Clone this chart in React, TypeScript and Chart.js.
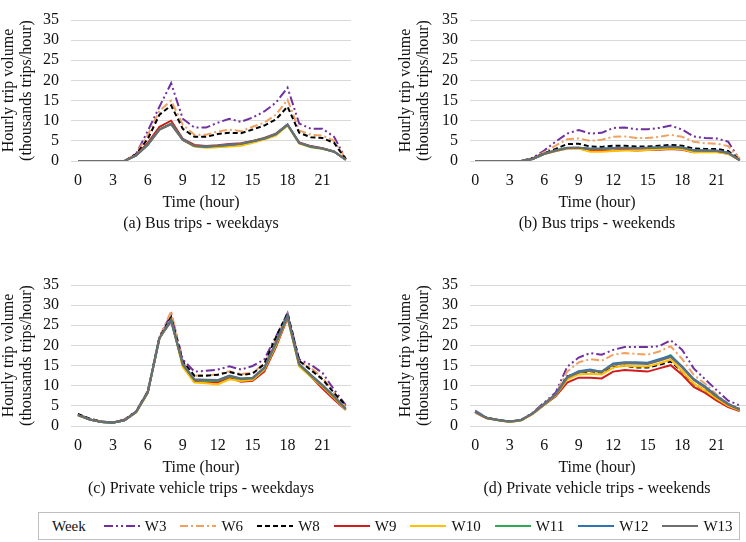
import React, { useEffect, useRef } from "react";
import { Chart, registerables } from "chart.js";

Chart.register(...registerables);

const hours = [0, 1, 2, 3, 4, 5, 6, 7, 8, 9, 10, 11, 12, 13, 14, 15, 16, 17, 18, 19, 20, 21, 22, 23];
const xTickValues = [0, 3, 6, 9, 12, 15, 18, 21];
const weeks = ["W3", "W6", "W8", "W9", "W10", "W11", "W12", "W13"];
const xAxisTitle = "Time (hour)";
const yAxisTitle = ["Hourly trip volume", "(thousands trips/hour)"];

// (a) Bus trips - weekdays
const busWeekdayW3 = [0, 0, 0, 0, 0, 1.8, 7.5, 13.5, 19.3, 10.5, 8.3, 8.3, 9.5, 10.5, 9.7, 10.8, 12.3, 14.5, 18.2, 9.3, 8, 8, 6, 0.5];
const busWeekdayW6 = [0, 0, 0, 0, 0, 1.8, 6.5, 12.5, 15, 9, 6.5, 6.5, 7.3, 7.8, 7.4, 8.5, 9.5, 11.5, 15.2, 7.6, 6.5, 6.3, 5, 0.5];
const busWeekdayW8 = [0, 0, 0, 0, 0, 1.7, 5.5, 11.5, 13.8, 8, 6, 6, 6.7, 7, 6.9, 7.8, 8.8, 10.3, 13.5, 7, 5.9, 5.7, 4.5, 0.4];
const busWeekdayW9 = [0, 0, 0, 0, 0, 1.5, 4.5, 8.5, 10, 5.5, 4, 3.7, 3.9, 4.2, 4.4, 5, 5.7, 6.8, 9, 4.6, 3.7, 3.2, 2.4, 0.3];
const busWeekdayW10 = [0, 0, 0, 0, 0, 1.4, 4.0, 7.8, 9.2, 5.2, 3.6, 3.3, 3.4, 3.6, 3.8, 4.5, 5.3, 6.3, 8.8, 4.3, 3.4, 3.0, 2.3, 0.3];
const busWeekdayW11 = [0, 0, 0, 0, 0, 1.4, 4.1, 7.9, 9.3, 5.3, 3.7, 3.5, 3.7, 4.0, 4.3, 4.9, 5.6, 6.6, 8.9, 4.5, 3.5, 3.1, 2.3, 0.3];
const busWeekdayW12 = [0, 0, 0, 0, 0, 1.4, 4.1, 7.8, 9.2, 5.3, 3.7, 3.6, 3.8, 4.1, 4.3, 4.9, 5.6, 6.7, 9.1, 4.5, 3.6, 3.1, 2.3, 0.3];
const busWeekdayW13 = [0, 0, 0, 0, 0, 1.4, 4.0, 7.8, 9.1, 5.2, 3.7, 3.6, 3.8, 4.0, 4.3, 4.9, 5.6, 6.7, 9.0, 4.5, 3.6, 3.1, 2.3, 0.3];

// (b) Bus trips - weekends
const busWeekendW3 = [0, 0, 0, 0, 0, 0.8, 2.6, 4.8, 6.8, 7.7, 6.8, 7.0, 8.2, 8.3, 7.9, 7.9, 8.2, 8.8, 7.8, 6.1, 5.7, 5.6, 4.8, 0.3];
const busWeekendW6 = [0, 0, 0, 0, 0, 0.7, 2.2, 3.8, 5.4, 5.6, 5.0, 5.3, 6.0, 6.1, 5.7, 5.7, 6.0, 6.5, 6.0, 4.8, 4.4, 4.3, 3.7, 0.5];
const busWeekendW8 = [0, 0, 0, 0, 0, 0.6, 1.9, 3.0, 4.2, 4.3, 3.6, 3.5, 3.8, 3.8, 3.6, 3.6, 3.8, 4.0, 3.8, 3.1, 3.0, 3.0, 2.5, 0.3];
const busWeekendW9 = [0, 0, 0, 0, 0, 0.5, 1.7, 2.5, 3.1, 3.2, 2.5, 2.5, 2.6, 2.8, 2.6, 2.7, 2.8, 3.0, 2.8, 2.2, 2.3, 2.3, 1.8, 0.2];
const busWeekendW10 = [0, 0, 0, 0, 0, 0.5, 1.7, 2.5, 3.1, 3.1, 2.3, 2.3, 2.5, 2.6, 2.6, 2.7, 2.9, 3.1, 2.9, 2.2, 2.2, 2.2, 1.8, 0.2];
const busWeekendW11 = [0, 0, 0, 0, 0, 0.5, 1.8, 2.6, 3.2, 3.3, 3.0, 3.0, 3.2, 3.2, 3.2, 3.2, 3.4, 3.5, 3.3, 2.6, 2.6, 2.5, 2.0, 0.2];
const busWeekendW12 = [0, 0, 0, 0, 0, 0.5, 1.8, 2.6, 3.3, 3.3, 3.1, 3.1, 3.2, 3.3, 3.2, 3.3, 3.4, 3.6, 3.4, 2.7, 2.6, 2.6, 2.1, 0.2];
const busWeekendW13 = [0, 0, 0, 0, 0, 0.5, 1.8, 2.6, 3.2, 3.3, 3.0, 3.0, 3.1, 3.2, 3.1, 3.2, 3.3, 3.5, 3.3, 2.6, 2.6, 2.5, 2.0, 0.2];

// (c) Private vehicle trips - weekdays
const carWeekdayW3 = [2.9, 1.8, 1.1, 0.9, 1.6, 3.7, 8.7, 22.2, 27.8, 16.5, 13.5, 13.7, 14.0, 14.8, 14.0, 14.9, 16.5, 22.2, 28.0, 16.5, 15.2, 13.2, 9.0, 5.2];
const carWeekdayW6 = [2.9, 1.8, 1.1, 0.9, 1.6, 3.6, 8.6, 22.0, 28.5, 15.8, 12.5, 12.6, 12.8, 13.6, 12.9, 13.2, 15.5, 21.5, 27.8, 16.0, 14.5, 12.0, 8.2, 4.8];
const carWeekdayW8 = [3.0, 1.8, 1.1, 0.9, 1.5, 3.6, 8.6, 22.0, 27.0, 16.0, 12.5, 12.5, 12.7, 13.4, 12.7, 13.0, 15.4, 22.0, 28.0, 16.2, 13.9, 11.6, 8.2, 5.1];
const carWeekdayW9 = [2.7, 1.6, 1.0, 0.8, 1.4, 3.4, 8.3, 21.8, 26.5, 15.0, 11.0, 10.8, 10.8, 12.0, 11.0, 11.2, 13.5, 19.6, 26.8, 15.0, 12.3, 9.3, 6.6, 4.0];
const carWeekdayW10 = [2.6, 1.6, 1.0, 0.8, 1.4, 3.4, 8.3, 21.8, 26.3, 14.6, 10.8, 10.6, 10.3, 11.6, 11.2, 11.5, 14.0, 20.0, 27.0, 14.8, 12.2, 9.8, 7.0, 4.1];
const carWeekdayW11 = [2.7, 1.6, 1.0, 0.8, 1.4, 3.5, 8.4, 21.8, 26.3, 15.2, 11.4, 11.2, 11.2, 12.3, 11.6, 11.8, 14.3, 20.4, 27.2, 15.2, 12.5, 10.0, 7.3, 4.2];
const carWeekdayW12 = [2.7, 1.6, 1.0, 0.8, 1.4, 3.5, 8.4, 21.9, 26.2, 15.5, 11.6, 11.5, 11.4, 12.5, 11.8, 12.0, 14.5, 20.8, 27.5, 15.4, 12.7, 10.2, 7.4, 4.3];
const carWeekdayW13 = [2.7, 1.6, 1.0, 0.8, 1.4, 3.5, 8.4, 21.9, 25.9, 15.4, 11.5, 11.4, 11.3, 12.4, 11.7, 11.9, 14.4, 20.6, 27.2, 15.3, 12.6, 10.1, 7.3, 4.3];

// (d) Private vehicle trips - weekends
const carWeekendW3 = [3.8, 2.1, 1.5, 1.1, 1.5, 3.3, 5.8, 8.3, 14.7, 17.0, 18.1, 17.7, 18.9, 19.6, 19.6, 19.6, 19.8, 21.3, 18.9, 14.3, 11.6, 8.9, 6.3, 5.1];
const carWeekendW6 = [3.6, 2.1, 1.5, 1.1, 1.5, 3.2, 5.6, 8.0, 13.5, 15.8, 16.6, 16.2, 17.7, 18.1, 17.9, 17.7, 18.5, 19.8, 16.6, 12.7, 10.5, 7.8, 5.5, 4.5];
const carWeekendW8 = [3.5, 2.0, 1.5, 1.1, 1.4, 3.1, 5.4, 7.8, 12.3, 13.2, 13.6, 13.2, 14.6, 15.0, 14.5, 14.5, 15.2, 16.0, 13.5, 10.4, 8.8, 6.8, 5.0, 3.9];
const carWeekendW9 = [3.3, 1.9, 1.4, 1.0, 1.4, 3.0, 5.2, 7.4, 10.8, 12.0, 12.0, 11.8, 13.5, 13.9, 13.7, 13.5, 14.3, 15.1, 12.7, 9.7, 8.2, 6.3, 4.7, 3.7];
const carWeekendW10 = [3.4, 1.9, 1.4, 1.0, 1.4, 3.0, 5.3, 7.6, 11.5, 12.8, 13.0, 12.8, 14.5, 15.0, 14.8, 14.8, 15.5, 16.5, 13.6, 10.5, 8.8, 6.8, 5.0, 3.9];
const carWeekendW11 = [3.5, 2.0, 1.5, 1.1, 1.5, 3.1, 5.4, 7.8, 12.0, 13.4, 13.8, 13.5, 15.3, 15.7, 15.6, 15.6, 16.4, 17.6, 14.6, 11.5, 9.6, 7.3, 5.4, 4.1];
const carWeekendW12 = [3.6, 2.0, 1.5, 1.1, 1.5, 3.1, 5.5, 7.9, 12.2, 13.6, 14.0, 13.5, 15.5, 15.8, 15.8, 15.7, 16.6, 17.4, 14.8, 11.7, 9.8, 7.5, 5.5, 4.2];
const carWeekendW13 = [3.5, 2.0, 1.5, 1.1, 1.5, 3.1, 5.4, 7.8, 12.0, 13.3, 13.7, 13.4, 15.2, 15.6, 15.5, 15.4, 16.2, 17.1, 14.5, 11.4, 9.5, 7.3, 5.3, 4.1];

const seriesColors = ["#7030A0", "#F0A060", "#000000", "#D01C1C", "#FFC000", "#33A852", "#2E75B6", "#6E6E6E"];
const seriesDashes: number[][] = [[9, 3, 2, 3, 2, 3], [8, 3, 2, 3], [5, 3], [], [], [], [], []];

const FONT = "'Liberation Serif', 'Times New Roman', serif";
const TEXT = "#111111";

type Panel = {
  subtitle: string;
  series: number[][];
  left: number;
  top: number;
  width: number;
  yWidth: number;
  xMin: number;
  xMax: number;
  padRight: number;
  labelCenter: number;
};

const panels: Panel[] = [
  {
    subtitle: "(a) Bus trips - weekdays",
    series: [busWeekdayW3, busWeekdayW6, busWeekdayW8, busWeekdayW9, busWeekdayW10, busWeekdayW11, busWeekdayW12, busWeekdayW13],
    left: 0, top: 0, width: 373, yWidth: 71, xMin: -0.6, xMax: 23.45, padRight: 22, labelCenter: 201,
  },
  {
    subtitle: "(b) Bus trips - weekends",
    series: [busWeekendW3, busWeekendW6, busWeekendW8, busWeekendW9, busWeekendW10, busWeekendW11, busWeekendW12, busWeekendW13],
    left: 397, top: 0, width: 349, yWidth: 73, xMin: -0.45, xMax: 23.55, padRight: 0, labelCenter: 200,
  },
  {
    subtitle: "(c) Private vehicle trips - weekdays",
    series: [carWeekdayW3, carWeekdayW6, carWeekdayW8, carWeekdayW9, carWeekdayW10, carWeekdayW11, carWeekdayW12, carWeekdayW13],
    left: 0, top: 265, width: 373, yWidth: 71, xMin: -0.6, xMax: 23.45, padRight: 22, labelCenter: 201,
  },
  {
    subtitle: "(d) Private vehicle trips - weekends",
    series: [carWeekendW3, carWeekendW6, carWeekendW8, carWeekendW9, carWeekendW10, carWeekendW11, carWeekendW12, carWeekendW13],
    left: 397, top: 265, width: 349, yWidth: 73, xMin: -0.45, xMax: 23.55, padRight: 0, labelCenter: 200,
  },
];

const PANEL_H = 235;

function PanelChart({ panel }: { panel: Panel }) {
  const ref = useRef<HTMLCanvasElement | null>(null);
  useEffect(() => {
    if (!ref.current) return;
    const chart = new Chart(ref.current, {
      type: "line",
      data: {
        datasets: panel.series.map((vals, i) => ({
          label: weeks[i],
          data: vals.map((v, j) => ({ x: hours[j], y: v })),
          borderColor: seriesColors[i],
          backgroundColor: seriesColors[i],
          borderDash: seriesDashes[i],
          borderWidth: 2,
          pointRadius: 0,
          tension: 0,
          fill: false,
          order: -i,
        })),
      },
      options: {
        responsive: false,
        animation: false,
        events: [],
        layout: { padding: { top: 0, right: panel.padRight, bottom: 0, left: 0 } },
        scales: {
          x: {
            type: "linear",
            min: panel.xMin,
            max: panel.xMax,
            afterBuildTicks: (s: any) => {
              s.ticks = xTickValues.map((v) => ({ value: v }));
            },
            afterFit: (s: any) => {
              s.height = 74;
            },
            grid: { display: false, drawTicks: false },
            border: { display: false },
            ticks: {
              autoSkip: false,
              maxRotation: 0,
              padding: 12,
              color: TEXT,
              font: { family: FONT, size: 16, lineHeight: 1 },
            },
            title: { display: false, text: xAxisTitle },
          },
          y: {
            min: 0,
            max: 35,
            afterFit: (s: any) => {
              s.width = panel.yWidth;
            },
            grid: { color: "#d9d9d9", lineWidth: 1, drawTicks: false },
            border: { display: false },
            ticks: {
              stepSize: 5,
              padding: 12,
              color: TEXT,
              font: { family: FONT, size: 16, lineHeight: 1 },
            },
            title: {
              display: true,
              text: yAxisTitle,
              color: TEXT,
              font: { family: FONT, size: 16, lineHeight: 1.1 },
              padding: { top: 0, bottom: 0 },
            },
          },
        },
        plugins: {
          legend: { display: false },
          tooltip: { enabled: false },
          title: { display: false },
        },
      },
    } as any);
    return () => chart.destroy();
  }, [panel]);
  const labelStyle: React.CSSProperties = {
    position: "absolute",
    left: panel.labelCenter - 150,
    width: 300,
    textAlign: "center",
    fontSize: 16,
    lineHeight: "18px",
    whiteSpace: "nowrap",
  };
  return (
    <div style={{ position: "absolute", left: panel.left, top: panel.top, width: panel.width, height: PANEL_H }}>
      <canvas ref={ref} width={panel.width} height={PANEL_H} style={{ width: panel.width, height: PANEL_H, display: "block" }} />
      <div style={{ ...labelStyle, top: 193 }}>{xAxisTitle}</div>
      <div style={{ ...labelStyle, top: 214 }}>{panel.subtitle}</div>
    </div>
  );
}

function LegendSample({ color, dash }: { color: string; dash: number[] }) {
  return (
    <svg width={36} height={6} style={{ display: "block" }}>
      <line x1={0} y1={3} x2={36} y2={3} stroke={color} strokeWidth={2} strokeDasharray={dash.length ? dash.join(",") : undefined} />
    </svg>
  );
}

export default function App() {
  return (
    <div style={{ position: "fixed", left: 0, top: 0, width: 746, height: 542, background: "#ffffff", fontFamily: FONT, color: TEXT, overflow: "hidden" }}>
      {panels.map((p) => (
        <PanelChart key={p.subtitle} panel={p} />
      ))}
      <div
        style={{
          position: "absolute",
          left: 38,
          top: 512,
          width: 702,
          height: 28,
          border: "1px solid #bfbfbf",
          boxSizing: "border-box",
          display: "flex",
          alignItems: "center",
          paddingLeft: 13,
          fontSize: 15,
        }}
      >
        <span style={{ marginRight: 18 }}>Week</span>
        {weeks.map((w, i) => (
          <div key={w} style={{ display: "flex", alignItems: "center", marginRight: i === weeks.length - 1 ? 0 : 14 }}>
            <LegendSample color={seriesColors[i]} dash={seriesDashes[i]} />
            <span style={{ marginLeft: 5 }}>{w}</span>
          </div>
        ))}
      </div>
    </div>
  );
}
